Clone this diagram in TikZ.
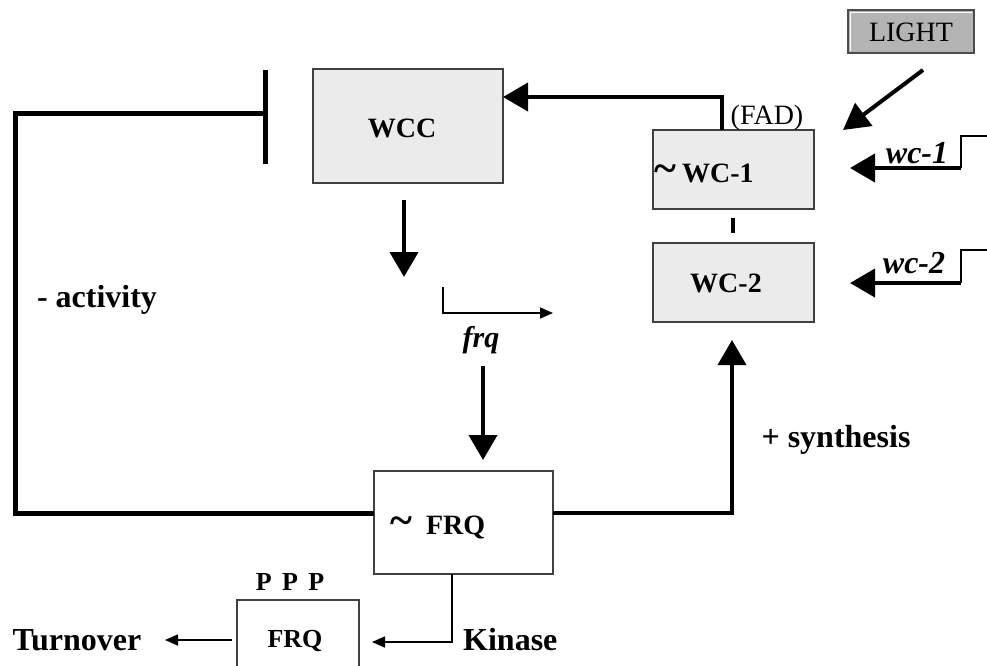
\documentclass[tikz,border=0pt]{standalone}
\usepackage{fontspec}
\setmainfont{Liberation Serif}
\usetikzlibrary{arrows.meta}
\definecolor{speck}{HTML}{EBEBEB}
\definecolor{lightbox}{HTML}{B4B4B4}
\tikzset{
  gbox/.style={draw=black!75, line width=1.3pt, fill=speck},
  wbox/.style={draw=black!75, line width=1.3pt, fill=white},
  thick arr/.style={line width=4pt, -{Triangle[length=25pt,width=28pt]}},
  thin arr/.style={line width=1.6pt, -{Triangle[length=13pt,width=11pt]}},
  thinline/.style={line width=1.6pt},
  thickline/.style={line width=4pt},
  lbl/.style={font=\fontsize{32}{34}\selectfont\bfseries, inner sep=0pt},
  blbl/.style={font=\fontsize{28}{30}\selectfont\bfseries, inner sep=0pt},
  ilbl/.style={font=\fontsize{32}{34}\selectfont\bfseries\itshape, inner sep=0pt},
}
\newcommand{\bigtilde}{{\fontsize{42}{42}\selectfont\textasciitilde}}
\begin{document}
\begin{tikzpicture}[x=1pt,y=-1pt]
\useasboundingbox (0,0) rectangle (987,665);
% boxes
\draw[fill=lightbox, draw=black!70, line width=1.3pt] (848,10) rectangle (974,53);
\draw[white, line width=1pt] (850,51) -- (850,12) -- (972,12);
\node[font=\fontsize{28}{30}\selectfont, inner sep=0pt] (light) at (911,32) {LIGHT};
\coordinate (lightS) at (923,70);
\coordinate (lightE) at (843,130);

\draw[gbox] (313,69) rectangle (503,183);
\node[blbl] (wcc) at (402,128) {WCC};
\coordinate (wccE) at (503,97);

\draw[gbox] (653,130) rectangle (814,209);
\node[blbl, anchor=west] (wc1) at (654,173) {\bigtilde\hspace{6pt}WC-1};

\draw[gbox] (653,243) rectangle (814,322);
\node[blbl] (wc2) at (726,283) {WC-2};

\draw[wbox] (374,471) rectangle (553,574);
\node[blbl, anchor=west] (frq) at (390,527) {\bigtilde\hspace{14pt}FRQ};

\draw[draw=black!75, line width=1.3pt] (237,666) -- (237,600) -- (359,600) -- (359,666);
\node[font=\fontsize{26}{28}\selectfont\bfseries, inner sep=0pt] (frqp) at (295,641) {FRQ};
\node[font=\fontsize{26}{28}\selectfont\bfseries, inner sep=0pt] (ppp) at (290,582) {P\hspace{0.4em}P\hspace{0.4em}P};

% labels
\node[font=\fontsize{28}{30}\selectfont, inner sep=0pt] (fad) at (767,118) {(FAD)};
\node[ilbl] (wc1g) at (917,153) {wc-1};
\node[ilbl] (wc2g) at (914,263) {wc-2};
\node[font=\fontsize{30}{32}\selectfont\bfseries\itshape, inner sep=0pt] (frqg) at (481,340) {frq};
\node[lbl] (act) at (97,300) {- activity};
\node[lbl] (syn) at (836,440) {+ synthesis};
\node[lbl, anchor=west] (kin) at (463,640) {Kinase};
\node[lbl] (turn) at (77,640) {Turnover};

% connectors
\draw[line width=5pt] (374,513) -- (15,513) -- (15,113) -- (265,113);
\draw[line width=5pt] (265,70) -- (265,164);
\draw[thick arr] (722,130) -- (722,97) -- (wccE);
\draw[line width=4pt, -{Triangle[length=26pt,width=28pt]}] (lightS) -- (lightE);
\draw[thinline] (987,136) -- (961,136) -- (961,168);
\draw[thick arr] (961,168) -- (850,168);
\draw[thinline] (987,250) -- (961,250) -- (961,283);
\draw[thick arr] (961,283) -- (850,283);
\draw[thickline] (733,218) -- (733,233);
\draw[thick arr] (404,200) -- (404,277);
\draw[thin arr] (443,287) -- (443,313) -- (553,313);
\draw[thick arr] (483,366) -- (483,460);
\draw[line width=3.5pt, -{Triangle[length=25pt,width=28pt]}] (553,513) -- (732,513) -- (732,340);
\draw[thin arr] (452,574) -- (452,642) -- (372,642);
\draw[thin arr] (232,640) -- (165,640);
\end{tikzpicture}
\end{document}
